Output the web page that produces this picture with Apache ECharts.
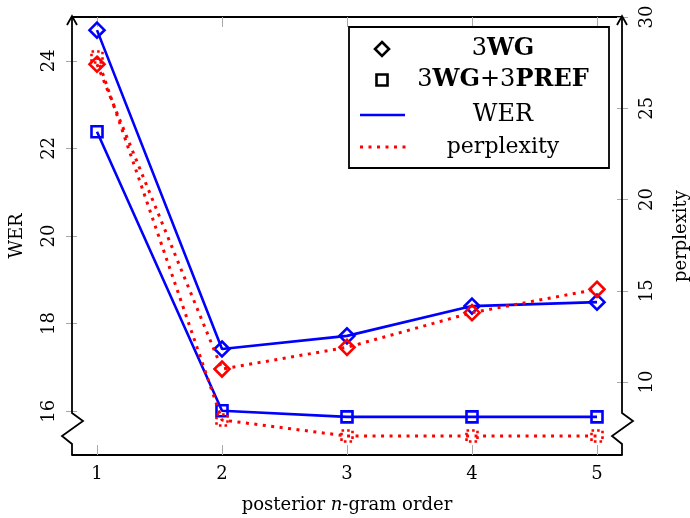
<!DOCTYPE html>
<html>
<head>
<meta charset="utf-8">
<script src="https://cdn.jsdelivr.net/npm/echarts@6/dist/echarts.min.js"></script>
<style>
  html, body { margin: 0; padding: 0; background: #fff; }
  #chart { width: 690px; height: 518px; }
</style>
</head>
<body>
<div id="chart"></div>
<script>
// posterior n-gram order on the x axis
const orders = [1, 2, 3, 4, 5];

// WER (left axis)
const wer3WG = [24.70, 17.42, 17.72, 18.40, 18.49];
const wer3WGPref = [22.38, 16.01, 15.87, 15.87, 15.87];

// perplexity (right axis)
const ppl3WG = [27.41, 10.71, 11.90, 13.80, 15.08];
const ppl3WGPref = [27.81, 7.92, 7.04, 7.04, 7.04];

// tick labels
const xTicks = [1, 2, 3, 4, 5];
const werTicks = [16, 18, 20, 22, 24];
const pplTicks = [10, 15, 20, 25, 30];

const FONT = 'DejaVu Serif';
const BLUE = '#0000ff';
const RED = '#ff0000';
const TICK_GREY = '#a8a8a8';

const G = { left: 72, right: 68, top: 17, bottom: 63 };
const W = 690, H = 518;
const x0 = G.left, x1 = W - G.right, y0 = G.top, y1 = H - G.bottom;

const pairs = (xs, ys) => xs.map((x, i) => [x, ys[i]]);

const chart = echarts.init(document.getElementById('chart'), null, { renderer: 'canvas' });

function yAxisBase(min, max, ticks, pos) {
  return {
    type: 'value', min: min, max: max, position: pos,
    axisLine: { show: false },
    splitLine: { show: false },
    axisTick: { show: true, length: 6, customValues: ticks, lineStyle: { color: TICK_GREY, width: 1 } },
    axisLabel: { show: true, customValues: ticks, rotate: 90, margin: 14, color: '#000', fontFamily: FONT, fontSize: 18 }
  };
}

const yWer = yAxisBase(15, 25, werTicks, 'left');
Object.assign(yWer, {
  name: 'WER', nameLocation: 'middle', nameRotate: 90, nameGap: 46,
  nameTextStyle: { color: '#000', fontFamily: FONT, fontSize: 18 }
});
const yPpl = yAxisBase(6, 30, pplTicks, 'right');
yPpl.axisLabel.margin = 16;
Object.assign(yPpl, {
  name: 'perplexity', nameLocation: 'middle', nameRotate: 90, nameGap: 50,
  nameTextStyle: { color: '#000', fontFamily: FONT, fontSize: 18 }
});
// companions carrying the inner half of the y ticks
const yWerIn = yAxisBase(15, 25, werTicks, 'left');
yWerIn.axisTick.inside = true; yWerIn.axisTick.length = 5; yWerIn.axisLabel.show = false;
const yPplIn = yAxisBase(6, 30, pplTicks, 'right');
yPplIn.axisTick.inside = true; yPplIn.axisTick.length = 5; yPplIn.axisLabel.show = false;

const xBottom = {
  type: 'value', min: 0.8, max: 5.2, position: 'bottom',
  axisLine: { show: true, lineStyle: { color: '#000', width: 1.8 } },
  splitLine: { show: false },
  axisTick: { show: true, inside: true, length: 10, customValues: xTicks, lineStyle: { color: TICK_GREY, width: 1 } },
  axisLabel: { show: true, customValues: xTicks, margin: 10, color: '#000', fontFamily: FONT, fontSize: 18 },
  name: 'posterior {i|n}-gram order', nameLocation: 'middle', nameGap: 41,
  nameTextStyle: {
    color: '#000', fontFamily: FONT, fontSize: 18,
    rich: { i: { fontStyle: 'italic', fontFamily: FONT, fontSize: 18, color: '#000' } }
  }
};
const xTop = {
  type: 'value', min: 0.8, max: 5.2, position: 'top',
  axisLine: { show: true, lineStyle: { color: '#000', width: 1.8 } },
  splitLine: { show: false },
  axisTick: { show: true, inside: true, length: 10, customValues: xTicks, lineStyle: { color: TICK_GREY, width: 1 } },
  axisLabel: { show: false }
};

function lineSeries(name, data, yIdx, color, symbol, size, dashed, markerDotted) {
  return {
    name: name, type: 'line', xAxisIndex: 0, yAxisIndex: yIdx, data: data,
    symbol: symbol, symbolSize: size, showSymbol: true,
    lineStyle: { color: color, width: dashed ? 3 : 2.6, type: dashed ? [3, 5.5] : 'solid', cap: 'butt' },
    itemStyle: {
      color: 'transparent', borderColor: color, borderWidth: 2.6,
      borderType: markerDotted ? [2.6, 3] : 'solid'
    },
    emphasis: { disabled: true },
    silent: true, animation: false, z: dashed ? 3 : 2
  };
}

// y axis lines with break marks and arrow heads
function axisWithBreak(x) {
  return [
    {
      type: 'polyline', silent: true, z: 10,
      shape: { points: [[x, y0], [x, y1 - 42], [x + 11, y1 - 34], [x - 10, y1 - 19], [x, y1 - 11], [x, y1]] },
      style: { stroke: '#000', lineWidth: 1.8, fill: null, lineJoin: 'miter' }
    },
    {
      type: 'polyline', silent: true, z: 10,
      shape: { points: [[x - 5, y0 + 8], [x, y0 - 1], [x + 5, y0 + 8]] },
      style: { stroke: '#000', lineWidth: 1.8, fill: null }
    }
  ];
}

// legend box
const LX = 349, LY = 27, LW = 260, LH = 141;
const markX = 382, textX = 503;
const rows = [49, 80, 115, 147];
const legendRich = {
  n: { fontFamily: FONT, fontSize: 24, color: '#000' },
  b: { fontFamily: FONT, fontSize: 24, fontWeight: 'bold', color: '#000' }
};
const legend = [
  {
    type: 'rect', silent: true, z: 20,
    shape: { x: LX, y: LY, width: LW, height: LH },
    style: { fill: '#fff', stroke: '#000', lineWidth: 1.8 }
  },
  {
    type: 'polygon', silent: true, z: 21,
    shape: { points: [[markX, rows[0] - 7], [markX + 7, rows[0]], [markX, rows[0] + 7], [markX - 7, rows[0]]] },
    style: { fill: null, stroke: '#000', lineWidth: 2.6 }
  },
  {
    type: 'rect', silent: true, z: 21,
    shape: { x: markX - 5.5, y: rows[1] - 5.5, width: 11, height: 11 },
    style: { fill: null, stroke: '#000', lineWidth: 2.6 }
  },
  {
    type: 'line', silent: true, z: 21,
    shape: { x1: 360, y1: rows[2], x2: 405, y2: rows[2] },
    style: { stroke: BLUE, lineWidth: 2.6 }
  },
  {
    type: 'line', silent: true, z: 21,
    shape: { x1: 360, y1: rows[3], x2: 406, y2: rows[3] },
    style: { stroke: RED, lineWidth: 3, lineDash: [3, 5.5] }
  },
  {
    type: 'text', silent: true, z: 21, x: textX, y: rows[0],
    style: { text: '{n|3}{b|WG}', rich: legendRich, align: 'center', verticalAlign: 'middle' }
  },
  {
    type: 'text', silent: true, z: 21, x: textX, y: rows[1],
    style: { text: '{n|3}{b|WG}{n|+3}{b|PREF}', rich: legendRich, align: 'center', verticalAlign: 'middle' }
  },
  {
    type: 'text', silent: true, z: 21, x: textX, y: rows[2],
    style: { text: 'WER', fontFamily: FONT, fontSize: 24, fill: '#000', align: 'center', verticalAlign: 'middle' }
  },
  {
    type: 'text', silent: true, z: 21, x: textX, y: rows[3],
    style: { text: 'perplexity', fontFamily: FONT, fontSize: 22, fill: '#000', align: 'center', verticalAlign: 'middle' }
  }
];

chart.setOption({
  animation: false,
  backgroundColor: '#fff',
  textStyle: { fontFamily: FONT },
  grid: {
    left: G.left, right: G.right, top: G.top, bottom: G.bottom,
    containLabel: false, outerBoundsMode: 'none'
  },
  xAxis: [xBottom, xTop],
  yAxis: [yWer, yPpl, yWerIn, yPplIn],
  series: [
    lineSeries('3WG WER', pairs(orders, wer3WG), 0, BLUE, 'diamond', 15, false, false),
    lineSeries('3WG+3PREF WER', pairs(orders, wer3WGPref), 0, BLUE, 'rect', 11, false, false),
    lineSeries('3WG perplexity', pairs(orders, ppl3WG), 1, RED, 'diamond', 15, true, false),
    lineSeries('3WG+3PREF perplexity', pairs(orders, ppl3WGPref), 1, RED, 'rect', 11, true, true)
  ],
  graphic: [].concat(axisWithBreak(x0), axisWithBreak(x1), legend)
});
</script>
</body>
</html>
